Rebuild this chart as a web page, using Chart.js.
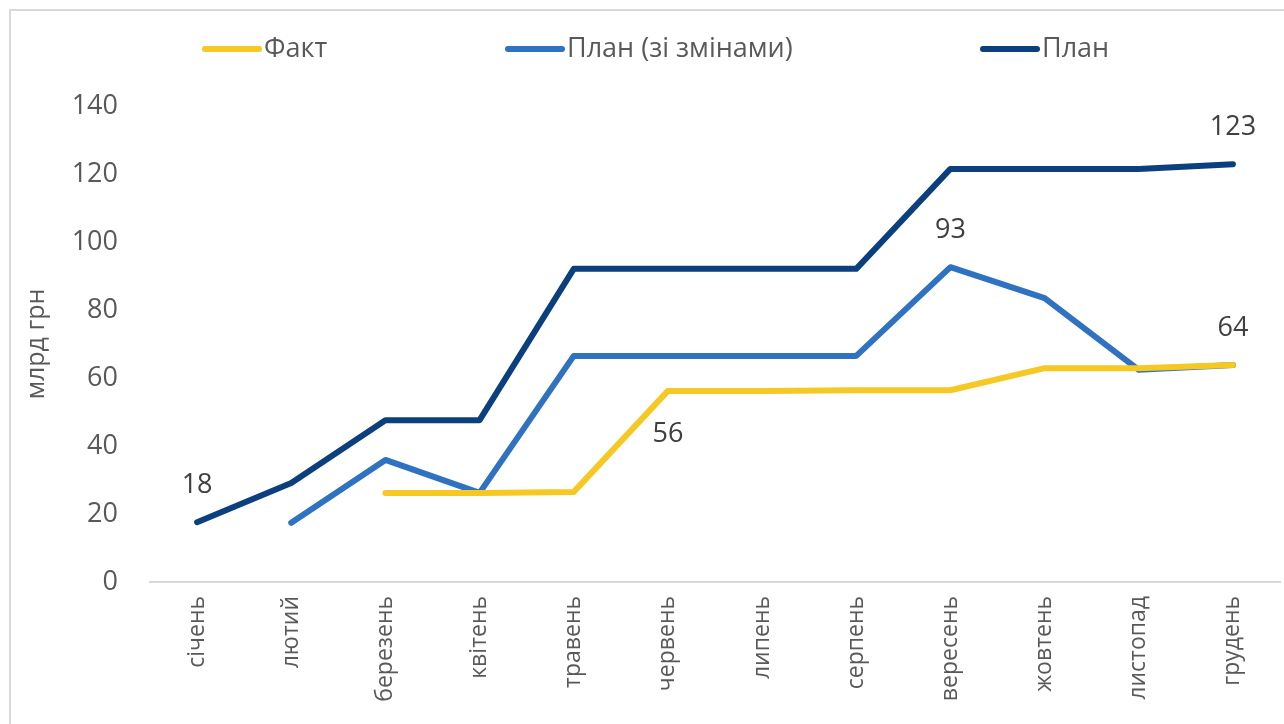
<!DOCTYPE html>
<html lang="uk">
<head>
  <meta charset="UTF-8">
  <title>План і факт, млрд грн</title>
  <script src="https://cdn.jsdelivr.net/npm/chart.js"></script>
  <style>
    html, body { margin: 0; padding: 0; background: #fff; overflow: hidden; }
    .frame { position: absolute; left: 9px; top: 9px; width: 1300px; height: 740px; border: 2px solid #d9d9d9; box-sizing: border-box; }
    .wrap { position: absolute; left: 0; top: 0; width: 1284px; height: 724px; }
  </style>
</head>
<body>
<div class="frame"></div>
<div class="wrap"><canvas id="chart" width="1284" height="724"></canvas></div>
<script>
  const months = ['січень','лютий','березень','квітень','травень','червень','липень','серпень','вересень','жовтень','листопад','грудень'];
  const fact = [null, null, 26.2, 26.2, 26.5, 56.2, 56.2, 56.4, 56.4, 62.9, 62.9, 63.8];
  const planChanged = [null, 17.4, 35.9, 26.2, 66.5, 66.5, 66.5, 66.5, 92.6, 83.5, 62.4, 63.8];
  const plan = [17.6, 29.1, 47.6, 47.6, 92.1, 92.1, 92.1, 92.1, 121.5, 121.5, 121.5, 122.9];
  const yTicks = [0, 20, 40, 60, 80, 100, 120, 140];

  // which points carry a value label: [dataset, index, above?]
  const pointLabels = [[2, 0, true], [1, 8, true], [2, 11, true], [1, 11, true], [0, 5, false]];

  const grey = '#595959';
  const font = '"Open Sans", sans-serif';

  const labelsPlugin = {
    id: 'valueLabels',
    afterDatasetsDraw(chart) {
      const ctx = chart.ctx;
      ctx.save();
      ctx.font = '27px ' + font;
      ctx.fillStyle = '#404040';
      ctx.textAlign = 'center';
      ctx.textBaseline = 'middle';
      pointLabels.forEach(([d, i, above]) => {
        const pt = chart.getDatasetMeta(d).data[i];
        const v = chart.data.datasets[d].data[i];
        ctx.fillText(Math.round(v), pt.x, above ? pt.y - 37 : pt.y + 43);
      });
      ctx.restore();
    }
  };

  const legendPlugin = {
    id: 'topLegend',
    afterDraw(chart) {
      const ctx = chart.ctx;
      const xs = [205, 508, 983];
      ctx.save();
      ctx.font = '27px ' + font;
      ctx.textBaseline = 'middle';
      ctx.lineCap = 'round';
      chart.data.datasets.forEach((ds, k) => {
        ctx.strokeStyle = ds.borderColor;
        ctx.lineWidth = 6;
        ctx.beginPath();
        ctx.moveTo(xs[k], 49);
        ctx.lineTo(xs[k] + 54, 49);
        ctx.stroke();
        ctx.fillStyle = grey;
        ctx.fillText(ds.label, xs[k] + 59, 49);
      });
      ctx.restore();
    }
  };

  const lineStyle = { borderWidth: 6, pointRadius: 0, tension: 0, borderCapStyle: 'round', borderJoinStyle: 'round', spanGaps: false };

  new Chart(document.getElementById('chart'), {
    type: 'line',
    data: {
      labels: months,
      datasets: [
        { label: 'Факт', data: fact, borderColor: '#F5C823', ...lineStyle },
        { label: 'План (зі змінами)', data: planChanged, borderColor: '#2E72C1', ...lineStyle },
        { label: 'План', data: plan, borderColor: '#0C3F7D', ...lineStyle }
      ]
    },
    options: {
      responsive: false,
      animation: false,
      layout: { padding: { top: 106, right: 4, left: 0, bottom: 0 } },
      plugins: { legend: { display: false }, tooltip: { enabled: false } },
      scales: {
        x: {
          offset: true,
          grid: { display: false },
          border: { color: '#d9d9d9', width: 2 },
          ticks: { color: grey, font: { family: font, size: 23 }, minRotation: 90, maxRotation: 90, padding: 6 },
          afterFit(s) { s.height = 142; }
        },
        y: {
          min: 0, max: 140,
          afterBuildTicks(s) { s.ticks = yTicks.map(v => ({ value: v })); },
          grid: { display: false },
          border: { display: false },
          ticks: { color: grey, font: { family: font, size: 27 }, padding: 24 },
          title: { display: true, text: 'млрд грн', color: grey, font: { family: font, size: 25 }, padding: { top: 22, bottom: 0 } },
          afterFit(s) { s.width = 150; }
        }
      }
    },
    plugins: [labelsPlugin, legendPlugin]
  });
</script>
</body>
</html>
